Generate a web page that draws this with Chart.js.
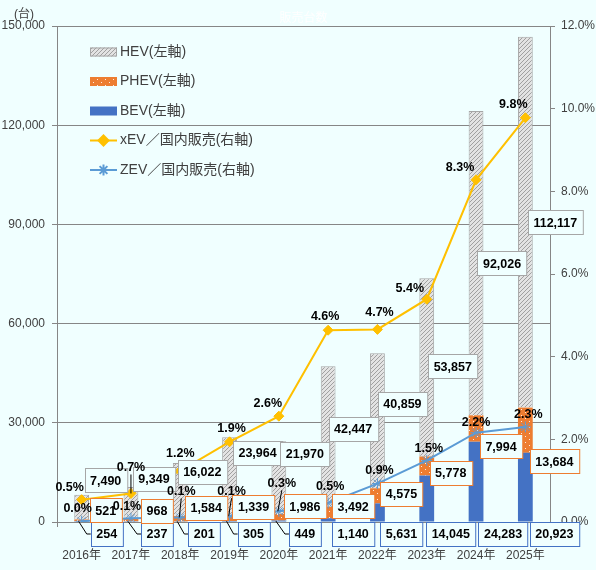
<!DOCTYPE html>
<html lang="ja">
<head>
<meta charset="utf-8">
<title>xEV 国内販売台数</title>
<script src="https://cdn.jsdelivr.net/npm/chart.js@4.4.1/dist/chart.umd.min.js"></script>
<style>
  html, body { margin: 0; padding: 0; background: #F0FFFF; }
  #wrap { width: 596px; height: 570px; }
</style>
</head>
<body>
<div id="wrap"><canvas id="chart" width="596" height="570"></canvas></div>
<script>
// Data
const years = ['2016年', '2017年', '2018年', '2019年', '2020年', '2021年', '2022年', '2023年', '2024年', '2025年'];
const hev = [7490, 9349, 16022, 23964, 21970, 42447, 40859, 53857, 92026, 112117];
const phev = [521, 968, 1584, 1339, 1986, 3492, 4575, 5778, 7994, 13684];
const bev = [254, 237, 201, 305, 449, 1140, 5631, 14045, 24283, 20923];
const xevShare = [0.54, 0.69, 1.24, 1.94, 2.56, 4.64, 4.66, 5.39, 8.28, 9.78];
const zevShare = [0.02, 0.09, 0.11, 0.14, 0.26, 0.46, 0.93, 1.49, 2.16, 2.30];
const leftMax = 150000, leftStep = 30000;
const rightMax = 12, rightStep = 2;

// Styles
const BG = '#F0FFFF';
const AXIS = '#868686';
const TXT = '#404040';
const FONT = "'Liberation Sans', 'Noto Sans CJK JP', sans-serif";
const C_HEV = '#A6A6A6', C_PHEV = '#ED7D31', C_BEV = '#4472C4';
const C_XEV = '#FFC000', C_ZEV = '#5B9BD5';

// label offsets (px) from the anchor, moved by hand like in the original
const hevOff = [[24, -27], [23, -24], [22, -18], [28, -24], [26, -24], [25, -8], [25, -17], [26, -1], [26, 0], [30, 0]];
const phevOff = [[24, -10], [26, -9], [26, -11], [24, -12], [26, -11], [25, -6], [24, -2], [24, 7], [25, 18], [29, 31]];
const bevOff = [[25, 12], [26, 12], [24, 12], [24, 12], [26, 12], [25, 12], [24, 12], [24, 12], [27, 12], [29, 12]];
const xevOff = [[-12, -12], [0, -26], [0, -17], [2, -13], [-11, -13], [-3, -14], [2, -17], [-17, -11], [-16, -12], [-12, -13]];
const zevOff = [[-4, -13], [-4, -12], [1, -26], [2, -25], [3, -28], [2, -16], [2, -13], [2, -12], [0, -10], [3, -12]];
const bevLeader = [1, 1, 1, 1, 1, 0, 0, 0, 0, 0];
const xevLeader = [0, 1, 0, 0, 0, 0, 0, 0, 0, 0];
const zevLeader = [0, 0, 1, 1, 1, 0, 0, 0, 0, 0];

const LABEL_FONT = 'bold 12.5px ' + FONT;

function makeHatch() {
    const c = document.createElement('canvas');
    c.width = 8; c.height = 8;
    const g = c.getContext('2d');
    g.fillStyle = '#E3E3E3';
    g.fillRect(0, 0, 8, 8);
    g.strokeStyle = '#A0A0A0';
    g.lineWidth = 1;
    for (let i = -8; i <= 16; i += 4) {
        g.beginPath();
        g.moveTo(i, 8);
        g.lineTo(i + 8, 0);
        g.stroke();
    }
    return g.createPattern(c, 'repeat');
}

function makeDots() {
    const c = document.createElement('canvas');
    c.width = 8; c.height = 6;
    const g = c.getContext('2d');
    g.fillStyle = C_PHEV;
    g.fillRect(0, 0, 8, 6);
    g.fillStyle = 'rgba(255,255,255,0.85)';
    g.fillRect(1, 1, 1, 1);
    g.fillRect(5, 4, 1, 1);
    return g.createPattern(c, 'repeat');
}

const hatch = makeHatch();
const dots = makeDots();

function boxWidth(ctx, text) {
    ctx.font = LABEL_FONT;
    return ctx.measureText(text).width + 11;
}

function drawBox(ctx, text, cx, cy, border) {
    const w = boxWidth(ctx, text);
    const h = 24;
    const x = Math.round(cx - w / 2) + 0.5, y = Math.round(cy - h / 2) + 0.5;
    ctx.fillStyle = BG;
    ctx.fillRect(x, y, w, h);
    ctx.strokeStyle = border;
    ctx.lineWidth = 1;
    ctx.strokeRect(x, y, w, h);
    ctx.fillStyle = '#000';
    ctx.textAlign = 'center';
    ctx.textBaseline = 'middle';
    ctx.fillText(text, cx, cy + 1);
}

function drawText(ctx, text, cx, cy) {
    ctx.font = LABEL_FONT;
    ctx.fillStyle = '#000';
    ctx.textAlign = 'center';
    ctx.textBaseline = 'middle';
    ctx.fillText(text, cx, cy);
}

function leader(ctx, pts) {
    ctx.strokeStyle = '#000';
    ctx.lineWidth = 1;
    ctx.beginPath();
    ctx.moveTo(pts[0][0], pts[0][1]);
    for (let i = 1; i < pts.length; i++) ctx.lineTo(pts[i][0], pts[i][1]);
    ctx.stroke();
}

const bgPlugin = {
    id: 'bg',
    beforeDraw(chart) {
        const ctx = chart.ctx;
        ctx.save();
        ctx.fillStyle = BG;
        ctx.fillRect(0, 0, chart.width, chart.height);
        ctx.restore();
    }
};

const labelPlugin = {
    id: 'labels',
    afterDatasetsDraw(chart) {
        const ctx = chart.ctx;
        const base = chart.scales.y.getPixelForValue(0);
        const mBev = chart.getDatasetMeta(0).data;
        const mPhev = chart.getDatasetMeta(1).data;
        const mHev = chart.getDatasetMeta(2).data;
        const mXev = chart.getDatasetMeta(3).data;
        const mZev = chart.getDatasetMeta(4).data;
        ctx.save();

        // leader lines first
        years.forEach((_, i) => {
            if (bevLeader[i]) {
                const b = mBev[i];
                const lx = b.x + bevOff[i][0], ly = base + bevOff[i][1];
                const left = lx - boxWidth(ctx, bev[i].toLocaleString('en-US')) / 2;
                leader(ctx, [[b.x - 3, (b.y + b.base) / 2], [left - 4, ly], [left, ly]]);
            }
            if (xevLeader[i]) {
                const p = mXev[i];
                leader(ctx, [[p.x + xevOff[i][0], p.y + xevOff[i][1] + 7], [p.x, p.y]]);
            }
            if (zevLeader[i]) {
                const p = mZev[i];
                leader(ctx, [[p.x + zevOff[i][0], p.y + zevOff[i][1] + 7], [p.x - 1, p.y]]);
            }
        });

        years.forEach((_, i) => {
            const b = mBev[i];
            drawBox(ctx, bev[i].toLocaleString('en-US'), b.x + bevOff[i][0], base + bevOff[i][1], C_BEV);
        });
        years.forEach((_, i) => {
            const b = mPhev[i];
            drawBox(ctx, phev[i].toLocaleString('en-US'), b.x + phevOff[i][0], (b.y + b.base) / 2 + phevOff[i][1], C_PHEV);
        });
        years.forEach((_, i) => {
            const b = mHev[i];
            drawBox(ctx, hev[i].toLocaleString('en-US'), b.x + hevOff[i][0], (b.y + b.base) / 2 + hevOff[i][1], C_HEV);
        });
        years.forEach((_, i) => {
            const p = mXev[i];
            drawText(ctx, xevShare[i].toFixed(1) + '%', p.x + xevOff[i][0], p.y + xevOff[i][1]);
        });
        years.forEach((_, i) => {
            const p = mZev[i];
            drawText(ctx, zevShare[i].toFixed(1) + '%', p.x + zevOff[i][0], p.y + zevOff[i][1]);
        });
        ctx.restore();
    },
    afterDraw(chart) {
        const ctx = chart.ctx;
        ctx.save();
        // unit + (nearly invisible) title
        ctx.font = '12px ' + FONT;
        ctx.fillStyle = TXT;
        ctx.textAlign = 'center';
        ctx.textBaseline = 'middle';
        ctx.fillText('(台)', 24, 15);
        ctx.fillStyle = '#FFFFFF';
        ctx.fillText('販売台数', (chart.chartArea.left + chart.chartArea.right) / 2, 19);

        // legend
        const items = [2, 1, 0, 3, 4];
        const x0 = 90, sw = 27;
        items.forEach((di, k) => {
            const ds = chart.data.datasets[di];
            const y = 52 + k * 29.5;
            if (ds.type === 'line') {
                ctx.strokeStyle = ds.borderColor;
                ctx.lineWidth = 2;
                ctx.beginPath();
                ctx.moveTo(x0, y);
                ctx.lineTo(x0 + sw, y);
                ctx.stroke();
                ctx.fillStyle = ds.pointBackgroundColor;
                ctx.strokeStyle = ds.borderColor;
                Chart.helpers.drawPoint(ctx, {
                    pointStyle: ds.pointStyle, radius: ds.pointRadius,
                    borderWidth: ds.pointBorderWidth, rotation: 0
                }, x0 + sw / 2, y);
            } else {
                ctx.fillStyle = ds.backgroundColor;
                ctx.fillRect(x0, y - 4.5, sw, 9);
                if (ds.borderWidth) {
                    ctx.strokeStyle = ds.borderColor;
                    ctx.lineWidth = 1;
                    ctx.strokeRect(x0 + 0.5, y - 4, sw - 1, 8);
                }
            }
            ctx.font = '14px ' + FONT;
            ctx.fillStyle = TXT;
            ctx.textAlign = 'left';
            ctx.textBaseline = 'middle';
            ctx.fillText(ds.label, x0 + sw + 3, y);
        });
        ctx.restore();
    }
};

const tickFont = { size: 12, family: FONT };

new Chart(document.getElementById('chart'), {
    data: {
        labels: years,
        datasets: [
            { type: 'bar', label: 'BEV(左軸)', data: bev, backgroundColor: C_BEV, borderWidth: 0, yAxisID: 'y', order: 2 },
            { type: 'bar', label: 'PHEV(左軸)', data: phev, backgroundColor: dots, borderWidth: 0, yAxisID: 'y', order: 2 },
            { type: 'bar', label: 'HEV(左軸)', data: hev, backgroundColor: hatch, borderColor: C_HEV, borderWidth: 1, yAxisID: 'y', order: 2 },
            {
                type: 'line', label: 'xEV／国内販売(右軸)', data: xevShare, yAxisID: 'y2', order: 1,
                borderColor: C_XEV, borderWidth: 2, pointStyle: 'rectRot', pointRadius: 5,
                pointBackgroundColor: C_XEV, pointBorderColor: C_XEV, pointBorderWidth: 1, tension: 0
            },
            {
                type: 'line', label: 'ZEV／国内販売(右軸)', data: zevShare, yAxisID: 'y2', order: 0,
                borderColor: C_ZEV, borderWidth: 2, pointStyle: 'star', pointRadius: 5.5,
                pointBackgroundColor: C_ZEV, pointBorderColor: C_ZEV, pointBorderWidth: 1, tension: 0
            }
        ]
    },
    options: {
        responsive: false,
        animation: false,
        devicePixelRatio: 1,
        layout: { padding: { top: 26, left: 0, right: 0, bottom: 0 } },
        datasets: { bar: { barPercentage: 0.3, categoryPercentage: 1.0 } },
        plugins: { legend: { display: false }, tooltip: { enabled: false }, title: { display: false } },
        scales: {
            x: {
                stacked: true,
                grid: { display: true, drawOnChartArea: false, offset: true, tickLength: 5, color: AXIS },
                border: { color: AXIS },
                ticks: { color: TXT, font: tickFont, padding: 21, maxRotation: 0, autoSkip: false },
                afterFit(s) { s.height = 48; }
            },
            y: {
                stacked: true, position: 'left', min: 0, max: leftMax,
                ticks: { stepSize: leftStep, color: TXT, font: tickFont, padding: 7, callback: v => v.toLocaleString('en-US') },
                grid: { color: AXIS, tickLength: 5 },
                border: { color: AXIS },
                afterFit(s) { s.width = 57; }
            },
            y2: {
                position: 'right', min: 0, max: rightMax,
                ticks: { stepSize: rightStep, color: TXT, font: tickFont, padding: 6, callback: v => v.toFixed(1) + '%' },
                grid: { drawOnChartArea: false, tickLength: 5, color: AXIS },
                border: { color: AXIS },
                afterFit(s) { s.width = 46; }
            }
        }
    },
    plugins: [bgPlugin, labelPlugin]
});
</script>
</body>
</html>
